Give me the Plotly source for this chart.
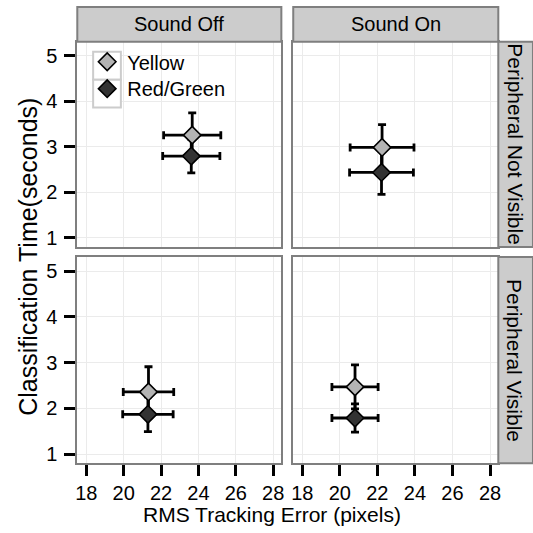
import plotly.graph_objects as go

# ---------------- data ----------------
sound_levels = ["Sound Off", "Sound On"]
periph_levels = ["Peripheral Not Visible", "Peripheral Visible"]
# panel order: (Off, Not Visible), (On, Not Visible), (Off, Visible), (On, Visible)
series_names = ["Yellow", "Red/Green"]

yellow_rms = [23.67, 22.25, 21.33, 20.81]
yellow_rms_err = [1.53, 1.70, 1.35, 1.23]
yellow_time = [3.26, 2.99, 2.36, 2.47]
yellow_time_err = [0.49, 0.50, 0.55, 0.48]

red_rms = [23.62, 22.22, 21.30, 20.81]
red_rms_err = [1.53, 1.70, 1.35, 1.23]
red_time = [2.80, 2.44, 1.87, 1.79]
red_time_err = [0.37, 0.48, 0.38, 0.31]

x_ticks = [18, 20, 22, 24, 26, 28]
y_ticks = [1, 2, 3, 4, 5]

# ---------------- layout helpers ----------------
W = 533
FONT = "Liberation Sans"
def fx(p):
    return p / W
def fy(p):
    return 1 - p / W

cols = [(76, 282), (294, 501)]
rows = [(42, 248), (258, 465)]
x_range = [17.52, 28.44]
y_range = [0.80, 5.31]

fills = ["#B3B3B3", "#333333"]
series = [
    (yellow_rms, yellow_rms_err, yellow_time, yellow_time_err),
    (red_rms, red_rms_err, red_time, red_time_err),
]
legend_ids = ["legend", "legend2"]
legend_rows = [62, 89]

fig = go.Figure()

# error bars first (drawn under all markers)
for s, (xs, xe, ys, ye) in enumerate(series):
    for k in range(4):
        ax = "" if k == 0 else str(k + 1)
        fig.add_trace(go.Scatter(
            x=[xs[k]], y=[ys[k]], mode="markers",
            marker=dict(size=2, color="rgba(0,0,0,0)"),
            error_x=dict(type="data", array=[xe[k]], color="black", thickness=2.8, width=4),
            error_y=dict(type="data", array=[ye[k]], color="black", thickness=2.8, width=4),
            xaxis="x" + ax, yaxis="y" + ax, showlegend=False, hoverinfo="skip"))

# markers
for s, (xs, xe, ys, ye) in enumerate(series):
    for k in range(4):
        ax = "" if k == 0 else str(k + 1)
        fig.add_trace(go.Scatter(
            x=[xs[k]], y=[ys[k]], mode="markers", name=series_names[s],
            marker=dict(symbol="diamond", size=13.5, color=fills[s],
                        line=dict(color="black", width=1.6)),
            xaxis="x" + ax, yaxis="y" + ax, legend=legend_ids[s],
            legendgroup=series_names[s], showlegend=(k == 0)))

layout = dict(
    width=W, height=W, margin=dict(l=0, r=0, t=0, b=0),
    paper_bgcolor="white", plot_bgcolor="white",
    font=dict(family=FONT, size=20, color="black"),
    showlegend=True,
)
for s, lid in enumerate(legend_ids):
    layout[lid] = dict(x=fx(86), y=fy(legend_rows[s]), xanchor="left", yanchor="middle",
                       bgcolor="rgba(0,0,0,0)", borderwidth=0,
                       font=dict(family=FONT, size=20, color="black"))

shapes = []
annotations = []
for r in range(2):
    for c in range(2):
        k = r * 2 + c
        ax = "" if k == 0 else str(k + 1)
        axis_common = dict(showline=True, linecolor="#7F7F7F", linewidth=2, mirror=True,
                           showgrid=True, gridcolor="#EBEBEB", gridwidth=1,
                           zeroline=False, ticks="outside", ticklen=11, tickwidth=2.5,
                           tickcolor="black", tickfont=dict(family=FONT, size=20, color="black"))
        xa = dict(axis_common, domain=[fx(cols[c][0]), fx(cols[c][1])], range=x_range,
                  tickvals=x_ticks, anchor="y" + ax)
        ya = dict(axis_common, domain=[fy(rows[r][1]), fy(rows[r][0])], range=y_range,
                  tickvals=y_ticks, anchor="x" + ax, ticklabelstandoff=3)
        if r == 0:
            xa.update(ticks="", showticklabels=False)
        if c == 1:
            ya.update(ticks="", showticklabels=False)
        layout["xaxis" + ax] = xa
        layout["yaxis" + ax] = ya

# top strips
for c in range(2):
    shapes.append(dict(type="rect", xref="paper", yref="paper",
                       x0=fx(cols[c][0]), x1=fx(cols[c][1]), y0=fy(42), y1=fy(7),
                       fillcolor="#CCCCCC", line=dict(color="#7F7F7F", width=2), layer="above"))
    annotations.append(dict(xref="paper", yref="paper", x=(fx(cols[c][0]) + fx(cols[c][1])) / 2,
                            y=(fy(42) + fy(7)) / 2, text=sound_levels[c], showarrow=False,
                            font=dict(family=FONT, size=20, color="black"),
                            xanchor="center", yanchor="middle"))
# right strips
for r in range(2):
    shapes.append(dict(type="rect", xref="paper", yref="paper",
                       x0=fx(501), x1=fx(536), y0=fy(rows[r][1]), y1=fy(rows[r][0]),
                       fillcolor="#CCCCCC", line=dict(color="#7F7F7F", width=2), layer="above"))
    annotations.append(dict(xref="paper", yref="paper", x=fx(518),
                            y=(fy(rows[r][0]) + fy(rows[r][1])) / 2, text=periph_levels[r],
                            showarrow=False, textangle=90,
                            font=dict(family=FONT, size=21, color="black"),
                            xanchor="center", yanchor="middle"))

# legend key boxes
for (t, b) in [(52, 80), (80, 108)]:
    shapes.append(dict(type="rect", xref="paper", yref="paper",
                       x0=fx(92), x1=fx(120), y0=fy(b), y1=fy(t),
                       fillcolor="white", line=dict(color="#CCCCCC", width=2), layer="above"))

# axis titles
annotations.append(dict(xref="paper", yref="paper", x=fx(273), y=fy(516),
                        text="RMS Tracking Error (pixels)", showarrow=False,
                        font=dict(family=FONT, size=21, color="black"),
                        xanchor="center", yanchor="middle"))
annotations.append(dict(xref="paper", yref="paper", x=fx(26), y=fy(258),
                        text="Classification Time(seconds)", showarrow=False, textangle=-90,
                        font=dict(family=FONT, size=25, color="black"),
                        xanchor="center", yanchor="middle"))

layout["shapes"] = shapes
layout["annotations"] = annotations
fig.update_layout(**layout)
fig.write_html("out.html")
